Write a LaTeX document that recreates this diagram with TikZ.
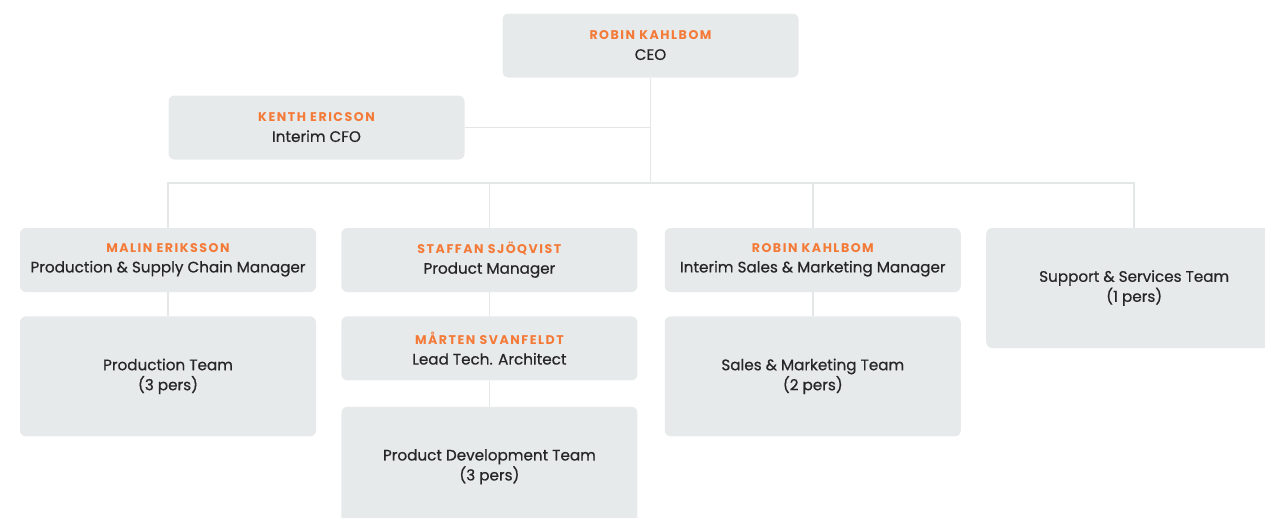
\documentclass[tikz,border=0pt]{standalone}
\usepackage{fontspec}
\setmainfont[FakeBold=0.6]{Poppins}
\newfontfamily\namefont[LetterSpace=12]{Poppins}
\usetikzlibrary{positioning}
\definecolor{boxgray}{HTML}{E7EAEB}
\definecolor{linegray}{HTML}{E4E7E8}
\definecolor{nameorange}{HTML}{F47A38}
\definecolor{textdark}{HTML}{262626}
\newcommand{\orgname}[1]{{\color{nameorange}\namefont\bfseries\fontsize{12.6}{20}\selectfont #1}\\}
\tikzset{
    every node/.style={text=textdark, font=\fontsize{15.2}{20}\selectfont, align=center}, % Dark centred text
    role/.style={fill=boxgray, rounded corners=6pt, minimum width=296pt, minimum height=64pt, inner sep=0pt}, % Person boxes
    team/.style={role, minimum height=120pt}, % Team boxes
    link/.style={draw=linegray, line width=1.6pt}, % Thin grey connectors
}

\begin{document}
\begin{tikzpicture}[x=1pt, y=-1pt]
    \useasboundingbox (0,0) rectangle (1265,517);
    \clip (0,0) rectangle (1265,517);

    \node[role] (ceo) at (650.5,45.5) {\orgname{ROBIN KAHLBOM}CEO};
    \node[role] (cfo) at (316.5,127.5) {\orgname{KENTH ERICSON}Interim CFO};

    \node[role] (malin) at (168,260) {\orgname{MALIN ERIKSSON}Production \& Supply Chain Manager};
    \node[role] (staffan) [right=25pt of malin] {\orgname{STAFFAN SJÖQVIST}Product Manager};
    \node[role] (robin) [right=27pt of staffan] {\orgname{ROBIN KAHLBOM}Interim Sales \& Marketing Manager};
    \node[team, anchor=north west] (support) at ([xshift=25pt]robin.north east) {Support \& Services Team\\(1 pers)};

    \node[team] (prodteam) [below=24pt of malin] {Production Team\\(3 pers)};
    \node[role] (marten) [below=24pt of staffan] {\orgname{MÅRTEN SVANFELDT}Lead Tech. Architect};
    \node[team] (devteam) [below=26pt of marten] {Product Development Team\\(3 pers)};
    \node[team] (salesteam) [below=24pt of robin] {Sales \& Marketing Team\\(2 pers)};

    \coordinate (bus) at (650.5,183);

    \draw[link] (ceo.south) -- (bus);
    \draw[link] (cfo.east) -- (cfo.east -| ceo.south);
    \draw[link] (malin.north) |- (bus) -| (support.north);
    \draw[link] (staffan.north) -- (staffan.north |- bus);
    \draw[link] (robin.north) -- (robin.north |- bus);
    \draw[link] (malin.south) -- (prodteam.north);
    \draw[link] (staffan.south) -- (marten.north);
    \draw[link] (marten.south) -- (devteam.north);
    \draw[link] (robin.south) -- (salesteam.north);
\end{tikzpicture}
\end{document}
